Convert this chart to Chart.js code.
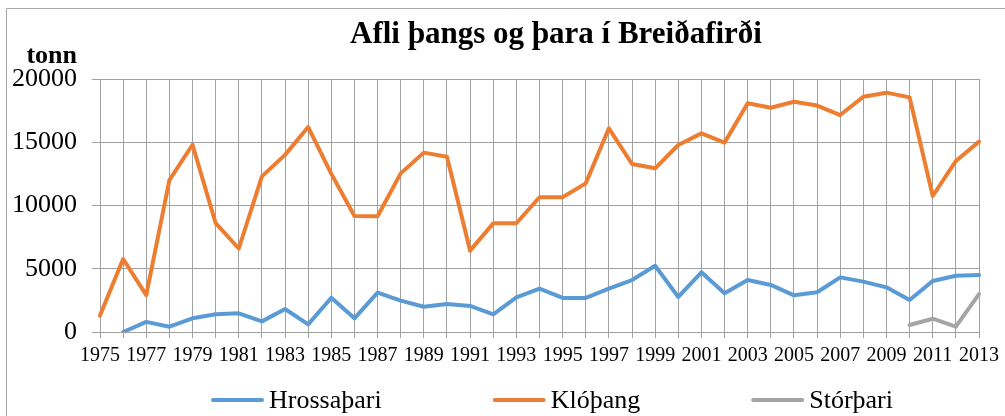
<!DOCTYPE html>
<html>
<head>
<meta charset="utf-8">
<script src="https://cdn.jsdelivr.net/npm/chart.js@4.4.1/dist/chart.umd.min.js"></script>
<style>
  body { margin: 0; background: #fff; }
  canvas { display: block; }
</style>
</head>
<body>
<canvas id="chart-canvas" width="1005" height="416"></canvas>
<script>
// Ár (x-ás)
const years = [];
for (let y = 1975; y <= 2013; y++) years.push(String(y));

// Afli í tonnum, lesið af myndinni
const hrossathari = [null, 0, 800, 420, 1080, 1400, 1480, 840, 1820, 600,
    2710, 1080, 3110, 2480, 2000, 2210, 2060, 1400, 2740, 3430,
    2690, 2690, 3430, 4110, 5240, 2770, 4720, 3060, 4110, 3720,
    2900, 3140, 4320, 3980, 3530, 2530, 4030, 4450, 4500];
const klothang = [1300, 5770, 2920, 12000, 14800, 8600, 6600, 12300, 14000, 16200,
    12500, 9170, 9150, 12540, 14180, 13860, 6430, 8590, 8600, 10650,
    10650, 11750, 16100, 13280, 12940, 14780, 15700, 14970, 18080, 17730,
    18200, 17900, 17150, 18600, 18920, 18550, 10750, 13520, 15050];
const storthari = [null, null, null, null, null, null, null, null, null, null,
    null, null, null, null, null, null, null, null, null, null,
    null, null, null, null, null, null, null, null, null, null,
    null, null, null, null, null, 550, 1050, 420, 3000];

const seriesNames = ['Hrossaþari', 'Klóþang', 'Stórþari'];
const seriesColors = ['#5b9bd5', '#ed7d31', '#a5a5a5'];
const titleText = 'Afli þangs og þara í Breiðafirði';
const unitText = 'tonn';

const SERIF = "'Liberation Serif', 'Times New Roman', serif";
const GRID = '#a0a0a0';

// Teiknar ramma, titil, "tonn" og skýringar (legend)
const extrasPlugin = {
    id: 'extras',
    beforeDraw(chart) {
        const ctx = chart.ctx;
        ctx.save();
        ctx.fillStyle = '#fff';
        ctx.fillRect(0, 0, chart.width, chart.height);
        ctx.strokeStyle = '#a6a6a6';
        ctx.lineWidth = 1;
        ctx.beginPath();
        ctx.moveTo(6.5, chart.height);
        ctx.lineTo(6.5, 8.5);
        ctx.lineTo(chart.width, 8.5);
        ctx.stroke();
        ctx.restore();
    },
    afterDraw(chart) {
        const ctx = chart.ctx;
        ctx.save();
        ctx.fillStyle = '#000';
        ctx.textBaseline = 'alphabetic';

        // titill
        ctx.font = 'bold 31px ' + SERIF;
        ctx.textAlign = 'center';
        ctx.fillText(titleText, 556, 43);

        // eining
        ctx.font = 'bold 26px ' + SERIF;
        ctx.textAlign = 'right';
        ctx.fillText(unitText, 77, 63);

        // skýringar
        ctx.font = '26px ' + SERIF;
        ctx.textAlign = 'left';
        const lineLen = 53, gapText = 5, gapItem = 111;
        const widths = chart.data.datasets.map(ds => lineLen + gapText + ctx.measureText(ds.label).width);
        const total = widths.reduce((a, b) => a + b, 0) + gapItem * (widths.length - 1);
        let x = 552 - total / 2;
        chart.data.datasets.forEach((ds, i) => {
            ctx.strokeStyle = ds.borderColor;
            ctx.lineWidth = 4;
            ctx.lineCap = 'round';
            ctx.beginPath();
            ctx.moveTo(x + 2, 400);
            ctx.lineTo(x + lineLen - 2, 400);
            ctx.stroke();
            ctx.fillText(ds.label, x + lineLen + gapText, 408);
            x += widths[i] + gapItem;
        });
        ctx.restore();
    }
};

const data = {
    labels: years,
    datasets: [hrossathari, klothang, storthari].map((vals, i) => ({
        label: seriesNames[i],
        data: vals,
        borderColor: seriesColors[i],
        backgroundColor: seriesColors[i],
        borderWidth: 4,
        borderJoinStyle: 'round',
        borderCapStyle: 'round',
        pointRadius: 0,
        tension: 0,
        spanGaps: false
    }))
};

const ctx = document.getElementById('chart-canvas').getContext('2d');
const myChart = new Chart(ctx, {
    type: 'line',
    data: data,
    plugins: [extrasPlugin],
    options: {
        responsive: false,
        animation: false,
        layout: { padding: { top: 79, right: 25, bottom: 0, left: 0 } },
        plugins: {
            legend: { display: false },
            title: { display: false },
            tooltip: { enabled: false }
        },
        scales: {
            x: {
                afterFit: (scale) => { scale.height = 84; },
                grid: { color: GRID, tickLength: 6, drawTicks: true },
                border: { color: GRID },
                ticks: {
                    autoSkip: false,
                    maxRotation: 0,
                    minRotation: 0,
                    padding: 6,
                    color: '#000',
                    font: { family: SERIF, size: 20 },
                    callback: function (val, index) {
                        return index % 2 === 0 ? this.getLabelForValue(val) : '';
                    }
                }
            },
            y: {
                min: 0,
                max: 20000,
                afterFit: (scale) => { scale.width = 100; },
                grid: { color: GRID, tickLength: 8 },
                border: { color: GRID },
                ticks: {
                    stepSize: 5000,
                    padding: 15,
                    color: '#000',
                    font: { family: SERIF, size: 26 },
                    callback: (v) => String(v)
                }
            }
        }
    }
});
</script>
</body>
</html>
